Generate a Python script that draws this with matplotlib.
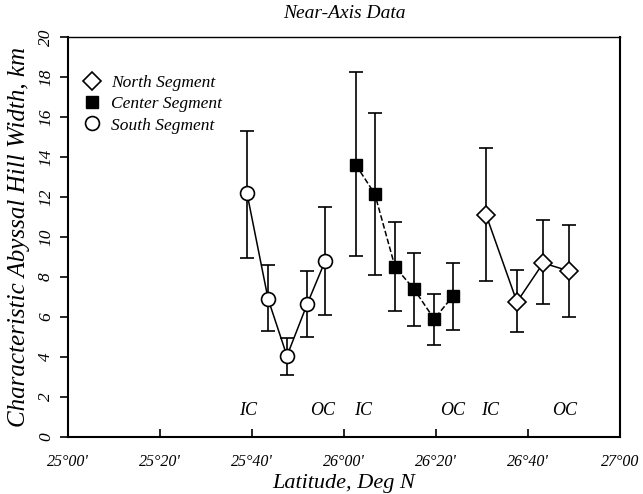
import matplotlib
matplotlib.use("Agg")
import matplotlib.pyplot as plt
from matplotlib.lines import Line2D

plt.rcParams['font.family'] = ['Liberation Serif', 'DejaVu Serif']
plt.rcParams['font.style'] = 'italic'

# latitude in minutes past 25 deg N
south_lat = [38.9, 43.5, 47.6, 52.0, 55.9]
south_w = [12.2, 6.9, 4.05, 6.65, 8.8]
south_hi = [15.3, 8.6, 4.95, 8.3, 11.5]
south_lo = [8.95, 5.3, 3.1, 5.0, 6.1]

center_lat = [62.6, 66.7, 71.1, 75.2, 79.6, 83.7]
center_w = [13.6, 12.15, 8.5, 7.4, 5.9, 7.05]
center_hi = [18.25, 16.2, 10.75, 9.2, 7.15, 8.7]
center_lo = [9.05, 8.1, 6.3, 5.55, 4.6, 5.35]

north_lat = [90.9, 97.6, 103.3, 108.9]
north_w = [11.1, 6.75, 8.7, 8.3]
north_hi = [14.45, 8.35, 10.85, 10.6]
north_lo = [7.8, 5.25, 6.65, 6.0]

corner_labels = ["IC", "OC", "IC", "OC", "IC", "OC"]
corner_lat = [39.1, 55.4, 64.1, 83.5, 91.7, 108.0]

xticks = [0, 20, 40, 60, 80, 100, 120]
xticklabels = ["25°00'", "25°20'", "25°40'", "26°00'", "26°20'", "26°40'", "27°00"]


def errs(w, lo, hi):
    return [[a - b for a, b in zip(w, lo)], [c - a for a, c in zip(w, hi)]]


fig = plt.figure(figsize=(6.43, 4.94), dpi=100)
ax = fig.add_axes([68 / 643, 57 / 494, 552 / 643, 400 / 494])

ax.errorbar(south_lat, south_w, yerr=errs(south_w, south_lo, south_hi),
            fmt='-o', color='black', mfc='white', mec='black', ms=10, mew=1.2,
            lw=1.1, capsize=5, elinewidth=1.2, capthick=1.2, zorder=3)
ax.errorbar(center_lat, center_w, yerr=errs(center_w, center_lo, center_hi),
            fmt='--s', color='black', mfc='black', mec='black', ms=9,
            lw=1.1, capsize=5, elinewidth=1.2, capthick=1.2, zorder=3)
ax.errorbar(north_lat, north_w, yerr=errs(north_w, north_lo, north_hi),
            fmt='-D', color='black', mfc='white', mec='black', ms=9, mew=1.2,
            lw=1.1, capsize=5, elinewidth=1.2, capthick=1.2, zorder=3)

for lab, x in zip(corner_labels, corner_lat):
    ax.text(x, 1.35, lab, ha='center', va='center', fontsize=13)

ax.set_xlim(0, 120)
ax.set_ylim(0, 20)
ax.set_xticks(xticks)
ax.set_xticklabels(xticklabels, fontsize=11.5)
ax.set_yticks(range(0, 21, 2))
ax.set_yticklabels([str(v) for v in range(0, 21, 2)], fontsize=12.5, rotation=90, va='center')
ax.tick_params(axis='x', direction='in', length=6, width=1.2, pad=12)
ax.tick_params(axis='y', direction='out', length=6, width=1.2, pad=4)
for s in ax.spines.values():
    s.set_linewidth(1.5)
ax.spines['top'].set_linewidth(1.0)

ax.set_title('Near-Axis Data', fontsize=14, pad=14)
ax.set_xlabel('Latitude, Deg N', fontsize=16, labelpad=3)
ax.set_ylabel('Characteristic Abyssal Hill Width, km', fontsize=18, labelpad=6)

handles = [
    Line2D([], [], ls='none', marker='D', ms=9, mfc='white', mec='black', mew=1.2),
    Line2D([], [], ls='none', marker='s', ms=9, mfc='black', mec='black'),
    Line2D([], [], ls='none', marker='o', ms=10, mfc='white', mec='black', mew=1.2),
]
ax.legend(handles, ['North Segment', 'Center Segment', 'South Segment'],
          loc='upper left', bbox_to_anchor=(0.0, 0.945), frameon=False,
          fontsize=12.5, handlelength=1.0, handletextpad=0.6, labelspacing=0.3)

fig.savefig('out.png', dpi=100)
